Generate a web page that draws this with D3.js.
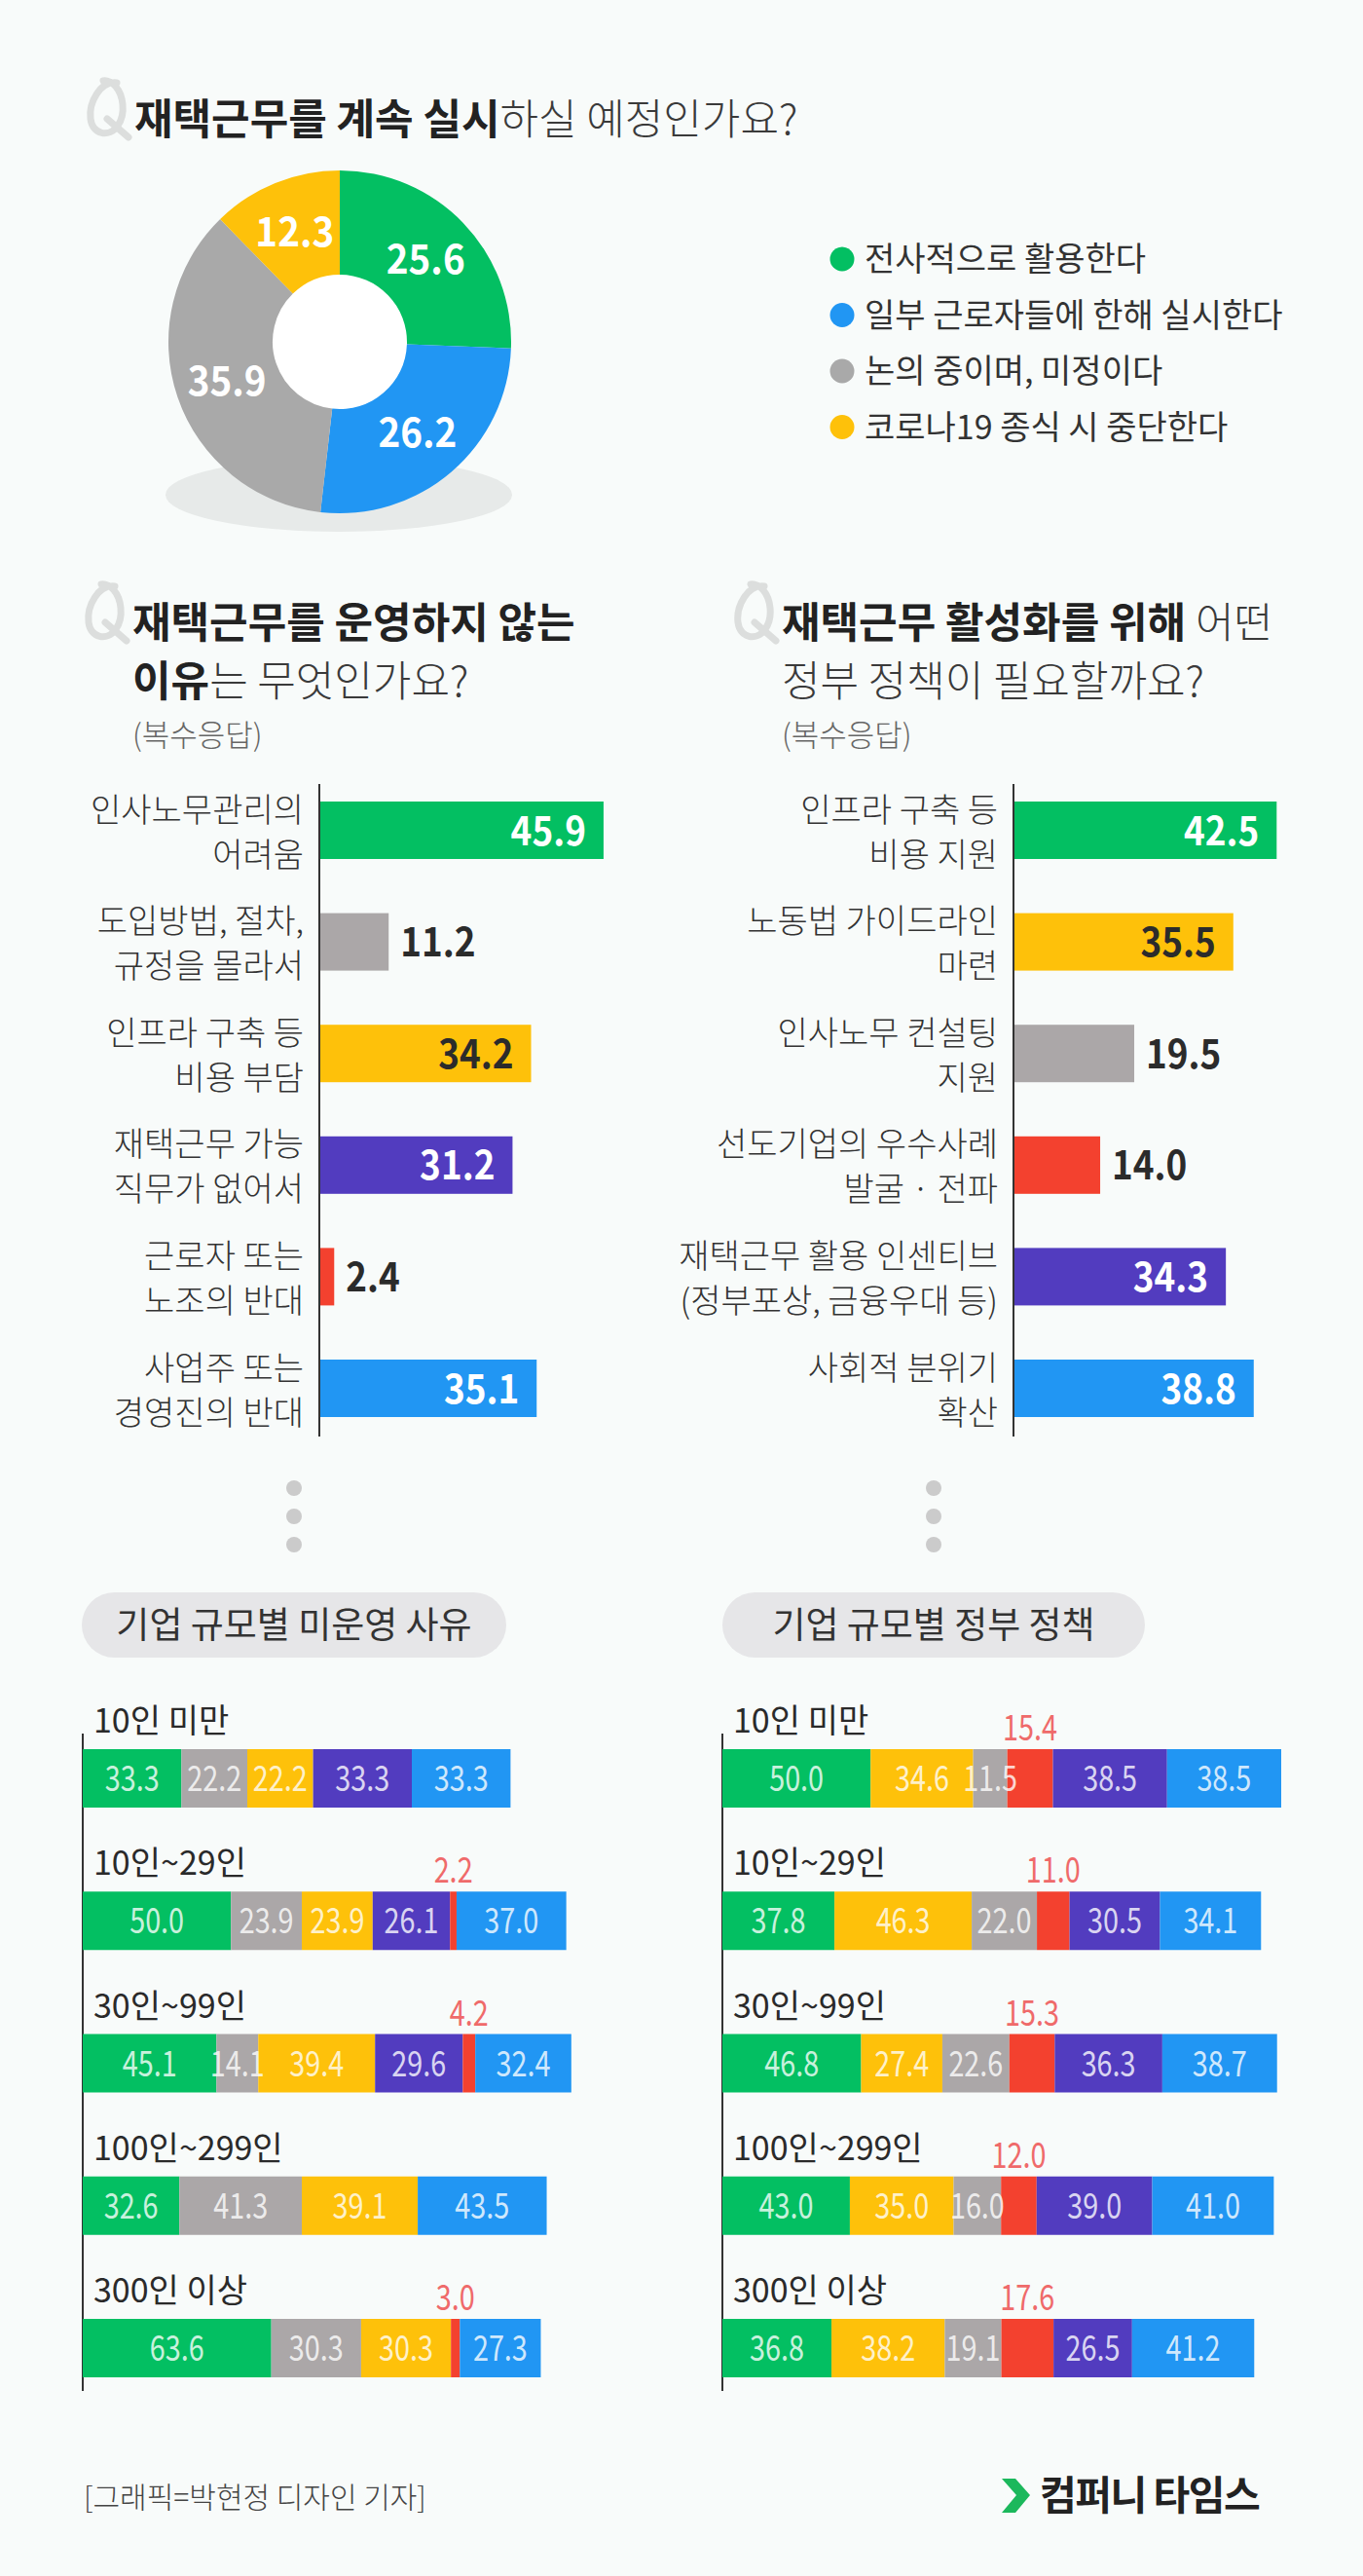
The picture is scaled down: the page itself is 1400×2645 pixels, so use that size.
<!DOCTYPE html>
<meta charset="utf-8">
<title>재택근무 설문</title>
<body style="margin:0;background:#f8fbfa">
<script src="https://cdn.jsdelivr.net/npm/d3@7"></script>
<div id="chart"></div>
<script>
// 재택근무 계속 실시 여부 (도넛)
var planLabels = ["전사적으로 활용한다", "일부 근로자들에 한해 실시한다", "논의 중이며, 미정이다", "코로나19 종식 시 중단한다"];
var planValues = [25.6, 26.2, 35.9, 12.3];

// 운영하지 않는 이유
var reasonLabels = [["인사노무관리의", "어려움"], ["도입방법, 절차,", "규정을 몰라서"], ["인프라 구축 등", "비용 부담"],
                    ["재택근무 가능", "직무가 없어서"], ["근로자 또는", "노조의 반대"], ["사업주 또는", "경영진의 반대"]];
var reasonValues = [45.9, 11.2, 34.2, 31.2, 2.4, 35.1];

// 필요한 정부 정책
var policyLabels = [["인프라 구축 등", "비용 지원"], ["노동법 가이드라인", "마련"], ["인사노무 컨설팅", "지원"],
                    ["선도기업의 우수사례", "발굴 · 전파"], ["재택근무 활용 인센티브", "(정부포상, 금융우대 등)"], ["사회적 분위기", "확산"]];
var policyValues = [42.5, 35.5, 19.5, 14.0, 34.3, 38.8];

// 기업 규모별
var sizeLabels = ["10인 미만", "10인~29인", "30인~99인", "100인~299인", "300인 이상"];
var reasonBySize = [
  [33.3, 22.2, 22.2, 33.3, 0, 33.3],
  [50.0, 23.9, 23.9, 26.1, 2.2, 37.0],
  [45.1, 14.1, 39.4, 29.6, 4.2, 32.4],
  [32.6, 41.3, 39.1, 0, 0, 43.5],
  [63.6, 30.3, 30.3, 0, 3.0, 27.3]
];
var policyBySize = [
  [50.0, 34.6, 11.5, 15.4, 38.5, 38.5],
  [37.8, 46.3, 22.0, 11.0, 30.5, 34.1],
  [46.8, 27.4, 22.6, 15.3, 36.3, 38.7],
  [43.0, 35.0, 16.0, 12.0, 39.0, 41.0],
  [36.8, 38.2, 19.1, 17.6, 26.5, 41.2]
];

var green = "#03bf62", blue = "#2196f3", gray = "#aba7a8", yellow = "#fec10a",
    purple = "#523cbf", red = "#f3412f";
var planColors = [green, blue, "#a9a9a9", yellow];
var reasonColors = [green, gray, yellow, purple, red, blue];
var policyColors = [green, yellow, gray, red, purple, blue];

var W = 1400, H = 2645;
var font = "'Noto Sans CJK KR', 'Noto Sans', sans-serif";

var svg = d3.select("#chart").append("svg")
    .attr("width", W).attr("height", H)
    .style("display", "block")
    .style("font-family", font);

svg.append("rect").attr("width", W).attr("height", H).attr("fill", "#f8fbfa");

// Q 아이콘 (모양으로) + 질문
function question(x, y, lines) {
  var q = svg.append("g")
    .attr("transform", "translate(" + (x - 50) + "," + (y - 58) + ")")
    .attr("fill", "none")
    .attr("stroke", "#dcdedd")
    .attr("stroke-width", 7)
    .attr("stroke-linecap", "round");
  q.append("path")
    .attr("d", "M32,5 C15,3 3,25 5,42 C7,58 24,62 33,49 C42,36 38,17 31,9 C28,5 22,2 18,3");
  q.append("path").attr("d", "M22,42 L44,61");

  lines.forEach(function(line, i) {
    var t = svg.append("text")
      .attr("x", x).attr("y", y + i * 60)
      .attr("font-size", 43)
      .attr("fill", "#2a2a2a");
    line.forEach(function(seg) {
      t.append("tspan")
        .attr("font-weight", seg[1] ? 700 : 300)
        .attr("fill", seg[1] ? "#222" : "#3a3a3a")
        .text(seg[0]);
    });
  });
}

question(138, 138, [[["재택근무를 계속 실시", true], ["하실 예정인가요?", false]]]);

// 숫자 글자를 좁게
function narrow(sel, sx) {
  sel.attr("transform", function() {
    var t = d3.select(this);
    return "translate(" + t.attr("x") + "," + t.attr("y") + ") scale(" + sx + ",1)";
  }).attr("x", 0).attr("y", 0);
}

// 도넛
var pie = d3.pie().sort(null).value(function(d) { return d; })(planValues);
var arc = d3.arc().innerRadius(69).outerRadius(176);

svg.append("ellipse")
  .attr("cx", 348).attr("cy", 508).attr("rx", 178).attr("ry", 38)
  .attr("fill", "#e7eae9");

var donut = svg.append("g").attr("transform", "translate(349,351)");
donut.append("circle").attr("r", 70).attr("fill", "#fff");
donut.selectAll("path")
  .data(pie)
  .join("path")
    .attr("d", arc)
    .attr("fill", function(d, i) { return planColors[i]; });
donut.selectAll("text")
  .data(pie)
  .join("text")
    .attr("x", function(d) { return arc.centroid(d)[0]; })
    .attr("y", function(d) { return arc.centroid(d)[1] + 15; })
    .attr("text-anchor", "middle")
    .attr("font-size", 42)
    .attr("font-weight", 700)
    .attr("fill", "#fff")
    .text(function(d) { return d.data.toFixed(1); })
    .call(narrow, 0.92);

var legend = svg.append("g").selectAll("g")
  .data(planLabels)
  .join("g")
    .attr("transform", function(d, i) { return "translate(865," + (266 + i * 57.5) + ")"; });
legend.append("circle").attr("r", 12.5).attr("fill", function(d, i) { return planColors[i]; });
legend.append("text")
  .attr("x", 23).attr("y", 12)
  .attr("font-size", 34)
  .attr("fill", "#333")
  .text(function(d) { return d; });

// 두번째 질문들
question(136, 655, [[["재택근무를 운영하지 않는", true]], [["이유", true], ["는 무엇인가요?", false]]]);
question(803, 655, [[["재택근무 활성화를 위해 ", true], ["어떤", false]], [["정부 정책이 필요할까요?", false]]]);

[136, 803].forEach(function(x) {
  svg.append("text")
    .attr("x", x).attr("y", 766)
    .attr("font-size", 31).attr("font-weight", 300)
    .attr("fill", "#666")
    .text("(복수응답)");
});

// 가로 막대
function hbars(ax, labels, values, colors) {
  var x = d3.scaleLinear().domain([0, 50]).range([ax, ax + 318]);
  var y = d3.scaleLinear().domain([0, values.length - 1]).range([823, 1396]);
  var bh = 59;
  var g = svg.append("g");

  g.selectAll("rect")
    .data(values)
    .join("rect")
      .attr("x", ax)
      .attr("y", function(d, i) { return y(i); })
      .attr("width", function(d) { return x(d) - ax; })
      .attr("height", bh)
      .attr("fill", function(d, i) { return colors[i]; });

  g.append("line")
    .attr("x1", ax).attr("x2", ax)
    .attr("y1", 805).attr("y2", 1475)
    .attr("stroke", "#333").attr("stroke-width", 2);

  g.selectAll(".val")
    .data(values)
    .join("text")
      .attr("class", "val")
      .attr("x", function(d) { return d < 25 ? x(d) + 12 : x(d) - 18; })
      .attr("y", function(d, i) { return y(i) + bh / 2 + 15; })
      .attr("text-anchor", function(d) { return d < 25 ? "start" : "end"; })
      .attr("font-size", 41)
      .attr("font-weight", 700)
      .attr("fill", function(d, i) { return d < 25 || colors[i] === yellow ? "#2b2b2b" : "#fff"; })
      .text(function(d) { return d.toFixed(1); })
      .call(narrow, 0.9);

  labels.forEach(function(pair, i) {
    pair.forEach(function(s, k) {
      g.append("text")
        .attr("x", ax - 16)
        .attr("y", y(i) + bh / 2 - 9 + k * 46)
        .attr("text-anchor", "end")
        .attr("font-size", 34)
        .attr("font-weight", 300)
        .attr("fill", "#333")
        .text(s);
    });
  });
}

hbars(328, reasonLabels, reasonValues, reasonColors);
hbars(1041, policyLabels, policyValues, policyColors);

// 점 3개 + 소제목
function subhead(cx, w, label) {
  [1528, 1557, 1586].forEach(function(cy) {
    svg.append("circle").attr("cx", cx).attr("cy", cy).attr("r", 8).attr("fill", "#cbcbcb");
  });
  svg.append("rect")
    .attr("x", cx - w / 2).attr("y", 1635)
    .attr("width", w).attr("height", 67)
    .attr("rx", 33.5)
    .attr("fill", "#e6e6e8");
  svg.append("text")
    .attr("x", cx).attr("y", 1682)
    .attr("text-anchor", "middle")
    .attr("font-size", 37)
    .attr("fill", "#333")
    .text(label);
}
subhead(302, 436, "기업 규모별 미운영 사유");
subhead(959, 434, "기업 규모별 정부 정책");

// 누적 막대
function stacked(ax, rows, colors) {
  var x = d3.scaleLinear().domain([0, 100]).range([0, 304.5]);
  var y = d3.scaleLinear().domain([0, rows.length - 1]).range([1796, 2381]);
  var bh = 60;
  var g = svg.append("g").attr("transform", "translate(" + ax + ",0)");

  g.append("line")
    .attr("x1", 0).attr("x2", 0)
    .attr("y1", 1780).attr("y2", 2455)
    .attr("stroke", "#333").attr("stroke-width", 2);

  rows.forEach(function(vals, r) {
    var ends = Array.from(d3.cumsum(vals));
    var segs = vals.map(function(v, i) { return { v: v, i: i, x0: ends[i] - v, x1: ends[i] }; })
      .filter(function(s) { return s.v > 0; });

    g.append("text")
      .attr("x", 11).attr("y", y(r) - 17)
      .attr("font-size", 34)
      .attr("fill", "#2a2a2a")
      .text(sizeLabels[r]);

    g.selectAll(".seg" + r)
      .data(segs)
      .join("rect")
        .attr("x", function(s) { return x(s.x0); })
        .attr("y", y(r))
        .attr("width", function(s) { return x(s.x1) - x(s.x0); })
        .attr("height", bh)
        .attr("fill", function(s) { return colors[s.i]; });

    g.selectAll(".lab" + r)
      .data(segs)
      .join("text")
        .attr("x", function(s) { return x((s.x0 + s.x1) / 2); })
        .attr("y", function(s) { return colors[s.i] === red ? y(r) - 9 : y(r) + bh / 2 + 13; })
        .attr("text-anchor", "middle")
        .attr("font-size", 36)
        .attr("fill", function(s) { return colors[s.i] === red ? "#ef6a6a" : "#fff"; })
        .attr("fill-opacity", function(s) { return colors[s.i] === red ? 1 : 0.8; })
        .text(function(s) { return s.v.toFixed(1); })
        .call(narrow, 0.8);
  });
}

stacked(85, reasonBySize, reasonColors);
stacked(742, policyBySize, policyColors);

// 하단
svg.append("text")
  .attr("x", 86).attr("y", 2575)
  .attr("font-size", 30).attr("font-weight", 300)
  .attr("fill", "#444")
  .text("[그래픽=박현정 디자인 기자]");

svg.append("path")
  .attr("d", "M1029,2545 L1043,2545 L1058,2562 L1043,2580 L1029,2580 L1044,2562 Z")
  .attr("fill", "#1cb85c");
svg.append("text")
  .attr("x", 1068).attr("y", 2577)
  .attr("font-size", 41).attr("font-weight", 700)
  .attr("letter-spacing", -1.5)
  .attr("fill", "#222")
  .text("컴퍼니 타임스");
</script>
</body>
